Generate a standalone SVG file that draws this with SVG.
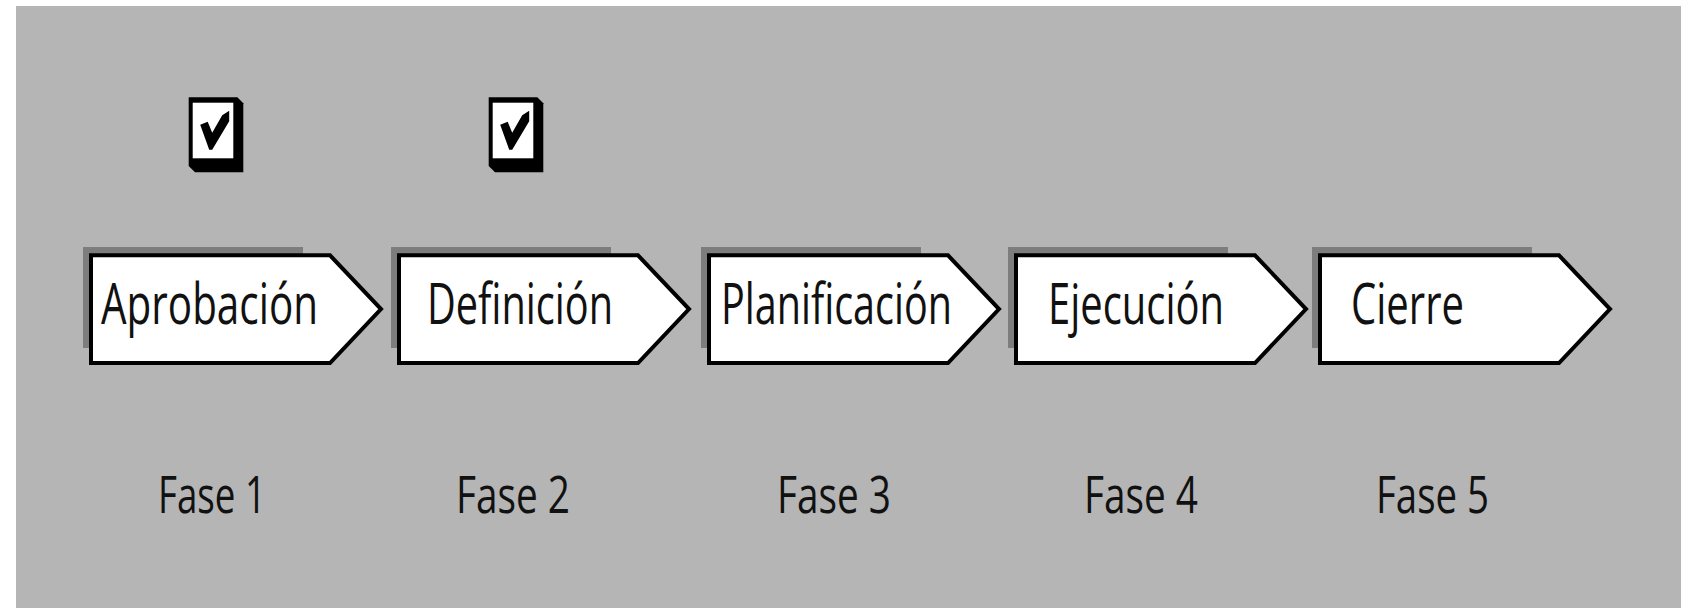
<svg xmlns="http://www.w3.org/2000/svg" xmlns:xlink="http://www.w3.org/1999/xlink" width="1691" height="608" viewBox="0 0 1691 608">
<style>
.shadow{fill:#7d7d7d}
.arrow{fill:#ffffff;stroke:#000000;stroke-width:4;stroke-linejoin:miter}
.lbl{font-family:"Open Sans","Noto Sans","Liberation Sans",sans-serif;font-size:57px;fill:#111111}
.fase{font-family:"Open Sans","Noto Sans","Liberation Sans",sans-serif;font-size:52px;fill:#111111}
.cbox{fill:#000000}
.cface{fill:#ffffff}
</style>
<defs>
<g id="arrowBody">
<rect class="shadow" x="-6" y="247" width="220" height="101"/>
<path class="arrow" d="M2,255.3 L241,255.3 L292,309 L241,363 L2,363 Z"/>
</g>
<g id="checkbox">
<path class="cbox" d="M0,0 L48.6,0 L54.6,6 L54.6,75 L6.3,75 L0,68.7 Z"/>
<rect class="cface" x="4" y="5.4" width="40.6" height="55.6"/>
<path class="cbox" d="M11.5,27.5 L19,24.5 L23.5,35.5 L33.5,18 L40.5,13.5 L40.5,24 L23.5,52.5 L20.5,52.5 Z"/>
</g>
</defs>
<rect x="0" y="0" width="1691" height="608" fill="#ffffff"/>
<rect x="16" y="6" width="1665" height="602" fill="#b5b5b5"/>
<g id="connectors"/>
<g id="check1" transform="translate(188.7,97.3)"><use xlink:href="#checkbox"/></g>
<g id="check2" transform="translate(488.7,97.3)"><use xlink:href="#checkbox"/></g>
<g id="node-aprobacion" transform="translate(89,0)"><use xlink:href="#arrowBody"/><text class="lbl" x="12" y="324" textLength="217" lengthAdjust="spacingAndGlyphs">Aprobación</text></g>
<g id="node-definicion" transform="translate(397,0)"><use xlink:href="#arrowBody"/><text class="lbl" x="30" y="324" textLength="186" lengthAdjust="spacingAndGlyphs">Definición</text></g>
<g id="node-planificacion" transform="translate(707,0)"><use xlink:href="#arrowBody"/><text class="lbl" x="14" y="324" textLength="231" lengthAdjust="spacingAndGlyphs">Planificación</text></g>
<g id="node-ejecucion" transform="translate(1014,0)"><use xlink:href="#arrowBody"/><text class="lbl" x="34" y="324" textLength="176" lengthAdjust="spacingAndGlyphs">Ejecución</text></g>
<g id="node-cierre" transform="translate(1318,0)"><use xlink:href="#arrowBody"/><text class="lbl" x="33" y="324" textLength="113" lengthAdjust="spacingAndGlyphs">Cierre</text></g>
<g id="fases">
<text class="fase" x="158" y="512.7" textLength="108" lengthAdjust="spacingAndGlyphs">Fase 1</text>
<text class="fase" x="456" y="512.7" textLength="114" lengthAdjust="spacingAndGlyphs">Fase 2</text>
<text class="fase" x="777" y="512.7" textLength="114" lengthAdjust="spacingAndGlyphs">Fase 3</text>
<text class="fase" x="1084" y="512.7" textLength="114" lengthAdjust="spacingAndGlyphs">Fase 4</text>
<text class="fase" x="1376" y="512.7" textLength="113" lengthAdjust="spacingAndGlyphs">Fase 5</text>
</g>
</svg>
